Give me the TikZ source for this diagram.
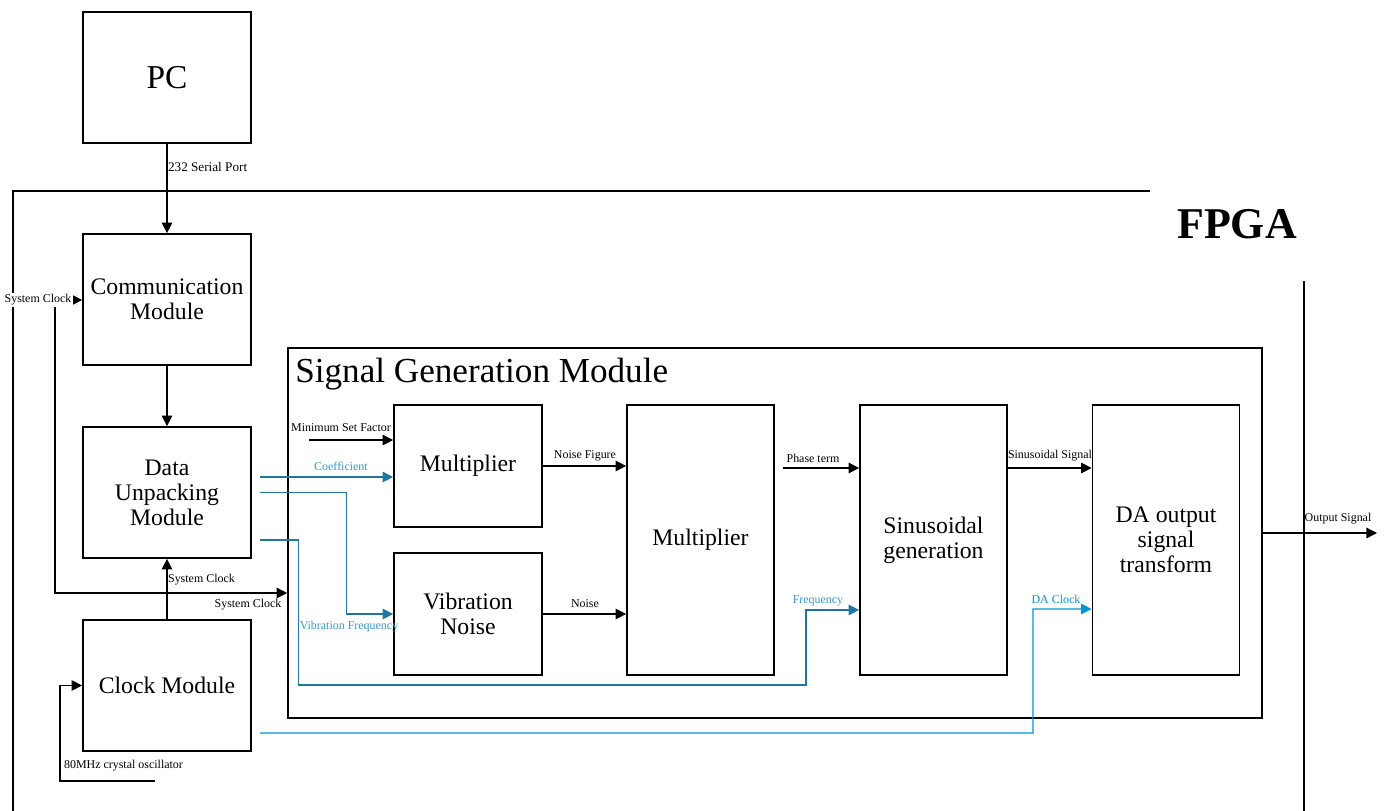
\documentclass[tikz,border=0pt]{standalone}
\usepackage{fontspec}
\setmainfont{Liberation Serif}
\usetikzlibrary{arrows.meta,calc}
\definecolor{wireblue}{RGB}{31,119,160}
\definecolor{tagblue}{RGB}{52,152,204}
\definecolor{clkblue}{RGB}{0,150,215}

\begin{document}
\begin{tikzpicture}[x=0.02cm,y=-0.02cm,
	box/.style={draw,line width=1pt,align=center,inner sep=0pt,font=\fontsize{13.5}{14.3}\selectfont},
	unit/.style={box,minimum width=3.36cm,minimum height=2.62cm},
	sub/.style={box,minimum width=2.96cm,minimum height=2.44cm},
	tall/.style={box,minimum width=2.94cm,minimum height=5.4cm},
	tag/.style={font=\fontsize{6.8}{8}\selectfont,inner sep=1pt},
	wire/.style={line width=0.7pt,-{Triangle[length=6pt,width=6pt]}},
	bluewire/.style={wire,draw=wireblue}]
	\useasboundingbox (0,0) rectangle (1387,811);

	% FPGA border
	\draw[line width=1pt] (1150,191) -- (13,191) -- (13,811);
	\draw[line width=1pt] (1304,281) -- (1304,811);
	\node[font=\fontsize{25}{28}\selectfont\bfseries] (fpga) at (1237,224) {FPGA};

	% left column
	\node[unit,font=\fontsize{19}{21}\selectfont] (pc) at (167,77.5) {PC};
	\node[unit] (comm) at (167,299.5) {Communication\\Module};
	\node[unit] (unpack) at (167,492.5) {Data\\Unpacking\\Module};
	\node[unit] (clk) at (167,685.5) {Clock Module};

	% signal generation module
	\node[box,minimum width=19.48cm,minimum height=7.4cm] (sgm) at (775,533) {};
	\node[anchor=west,inner sep=0pt,font=\fontsize{20}{22}\selectfont] (sgmlbl) at (295,374) {Signal Generation Module};
	\node[sub] (mulA) at (468,466) {\strut Multiplier};
	\node[sub] (vib) at (468,614) {Vibration\\Noise};
	\node[tall] (mulB) at (700.5,540) {\strut Multiplier};
	\node[tall] (sine) at (933.5,540) {Sinusoidal\\generation};
	\node[tall] (dac) at (1166,540) {DA output\\signal\\transform};

	% serial link and module chain
	\draw[wire] (pc) -- (comm);
	\node[tag,anchor=west,font=\fontsize{7.5}{9}\selectfont] (serial) at (166,167) {232 Serial Port};
	\draw[wire] (comm) -- (unpack);

	% system clock
	\coordinate (jn) at (167,593);
	\coordinate (xo) at (155,781);
	\draw[wire] (clk) -- (unpack);
	\draw[wire] (jn) -- (55,593) -- (55,300) -- (comm.west |- 0,300);
	\draw[wire] (jn) -- (jn -| sgm.west);
	\node[tag,fill=white] (sclkA) at (38,300) {System Clock};
	\node[tag,anchor=west] (sclkB) at (166,580) {System Clock};
	\node[tag] (sclkC) at (248,605) {System Clock};
	\draw[wire] (xo) -- (60,781) |- (clk.west);
	\node[tag,anchor=west] (osc) at (62,766) {80MHz crystal oscillator};

	% inputs of the generation module
	\coordinate (msf) at (309,440);
	\draw[wire] (msf) -- (msf -| mulA.west);
	\node[tag] (msflbl) at (341,428) {Minimum Set Factor};
	\draw[bluewire] (unpack.east) ++(8,-15.5) coordinate (co) -- (co -| mulA.west);
	\node[tag,text=tagblue] (colbl) at (341,466) {Coefficient};
	\draw[bluewire] (unpack.east) ++(8,0) -- ++(87,0) |- (vib.west);
	\node[tag,text=tagblue] (vflbl) at (349,627) {Vibration Frequency};
	\draw[bluewire] (unpack.east) ++(8,47.5) -- ++(39,0) |- (806,685) |- ($(sine.west)+(0,70)$);
	\node[tag,text=tagblue] (frlbl) at (818,601) {Frequency};
	\draw[wire,draw=clkblue] (clk.east) ++(8,47.5) -- (1033,733) |- ($(dac.west)+(0,69)$);
	\node[tag,text=clkblue] (dclbl) at (1056,599) {DA Clock};

	% data path
	\draw[wire] (mulA.east) -- (mulA.east -| mulB.west);
	\node[tag] (nflbl) at (585,456) {Noise Figure};
	\draw[wire] (vib.east) -- (vib.east -| mulB.west);
	\node[tag] (nslbl) at (585,604) {Noise};
	\draw[wire] (mulB.east) ++(8,-72) coordinate (ph) -- (ph -| sine.west);
	\node[tag] (phlbl) at (813,458) {Phase term};
	\draw[wire] (sine.east) ++(0,-72) coordinate (ss) -- (ss -| dac.west);
	\node[tag] (sslbl) at (1050,456) {Sinusoidal Signal};
	\coordinate (out) at (1377,533);
	\draw[wire] (sgm.east) -- (out);
	\node[tag] (outlbl) at (1338,519) {Output Signal};
\end{tikzpicture}
\end{document}
